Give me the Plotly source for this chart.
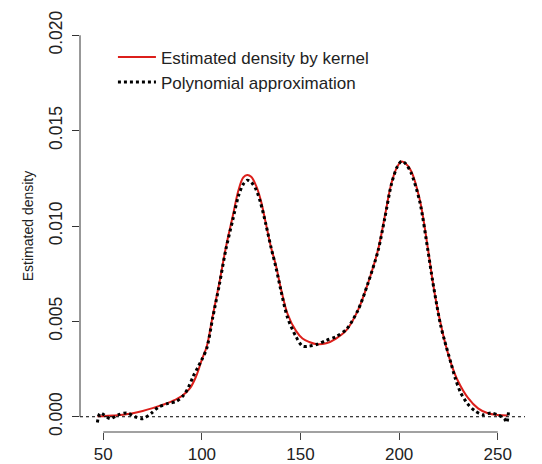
import plotly.graph_objects as go

# Kernel density estimate (red curve)
kde_x = [47, 50, 55, 60, 65, 70, 75, 80, 85, 90, 94, 97, 100, 102.5, 105.5, 108.8, 112.2,
         115.6, 118.6, 121, 123, 125, 127.5, 129.8, 132.4, 135, 137.6, 140.1, 143.4, 147.7,
         151, 154.4, 158.5, 163, 168, 173.4, 179.2, 184.2, 189.3, 192.7, 196.1, 199, 201.2,
         203, 206, 210.4, 214.6, 217, 219, 221, 223, 226.3, 229.7, 234.8, 240, 245, 250, 255]
kde_y = [0.00002, 0.00003, 0.00006, 0.0001, 0.00018, 0.0003, 0.00045, 0.00062, 0.00082,
         0.0011, 0.0015, 0.0021, 0.0030, 0.0037, 0.0053, 0.0070, 0.0089,
         0.0105, 0.0119, 0.01255, 0.01268, 0.01258, 0.0121, 0.01137, 0.01015, 0.0089,
         0.0079, 0.0067, 0.0054, 0.0045,
         0.0041, 0.00392, 0.0038, 0.00385, 0.0041, 0.00455, 0.0056, 0.0070, 0.00875,
         0.01049, 0.01225, 0.0131, 0.01338,
         0.0133, 0.0129, 0.0114, 0.0088, 0.0071, 0.0059, 0.0049, 0.0040, 0.0028, 0.0019,
         0.0010, 0.00044, 0.00018, 0.00009, 0.00006]

# Polynomial approximation (black dotted curve)
poly_x = [47, 48.5, 53.5, 57.5, 62, 66, 70, 74.5, 78, 83, 87, 90.5, 93, 95.5, 98, 100,
          102.5, 105.5, 108.8, 112.2, 115.6, 118.6, 121, 123, 125, 127.5, 129.8, 132.4, 135,
          137.6, 140.1, 143.4, 147.7, 151, 154.4, 158.5, 163, 168, 173.4, 179.2, 184.2,
          189.3, 192.7, 196.1, 199, 201.2, 203, 206, 210.4, 214.6, 217, 219, 221, 223,
          226.3, 228.5, 231, 234.5, 238.5, 242.5, 246.5, 250, 253.3, 254.5, 255.5]
poly_y = [-0.0003, 0.0002, -0.0001, 0.0001, 0.0002, 0.0, -0.0001, 0.0002, 0.0005, 0.0007,
          0.0008, 0.0011, 0.0015, 0.0021, 0.0026, 0.0030,
          0.0036, 0.0052, 0.0069, 0.0088, 0.0103, 0.0116, 0.0122, 0.0124, 0.0123, 0.0119,
          0.0112, 0.0101, 0.0089,
          0.0078, 0.0066, 0.0052, 0.0042, 0.0037, 0.0037, 0.0038, 0.0040, 0.0042, 0.0046,
          0.0056, 0.0070,
          0.0087, 0.0104, 0.0122, 0.0131, 0.0134, 0.0133, 0.0128, 0.0113, 0.0087, 0.0071,
          0.0059, 0.0048, 0.0040,
          0.0028, 0.0020, 0.0013, 0.0007, 0.0003, 0.0001, 0.0002, 0.0001, -0.0001, -0.0003,
          0.0003]

x_ticks = [50, 100, 150, 200, 250]
y_ticks = [0.0, 0.005, 0.010, 0.015, 0.020]
y_ticklabels = ["0.000", "0.005", "0.010", "0.015", "0.020"]

x_range = [38.2, 263.8]
y_range = [-0.0008, 0.0208]


def xfrac(v):
    return (v - x_range[0]) / (x_range[1] - x_range[0])


def yfrac(v):
    return (v - y_range[0]) / (y_range[1] - y_range[0])


fig = go.Figure()
fig.add_trace(go.Scatter(x=kde_x, y=kde_y, mode="lines", name="Estimated density by kernel",
                         line=dict(color="#DC1F1B", width=2, shape="spline")))
fig.add_trace(go.Scatter(x=poly_x, y=poly_y, mode="lines", name="Polynomial approximation",
                         line=dict(color="black", width=3, dash="dot", shape="spline",
                                   smoothing=0.8)))

# horizontal reference line at 0
fig.add_shape(type="line", xref="paper", yref="paper", x0=0, x1=1,
              y0=yfrac(0), y1=yfrac(0),
              line=dict(color="black", width=1, dash="dot"))
# R-style axis lines spanning only the tick range
fig.add_shape(type="line", xref="paper", yref="paper",
              x0=xfrac(x_ticks[0]), x1=xfrac(x_ticks[-1]), y0=0, y1=0,
              line=dict(color="#444444", width=1.2))
fig.add_shape(type="line", xref="paper", yref="paper", x0=0, x1=0,
              y0=yfrac(y_ticks[0]), y1=yfrac(y_ticks[-1]),
              line=dict(color="#333333", width=1))

font = "Liberation Sans, Arial, sans-serif"
fig.update_layout(
    width=534, height=456,
    margin=dict(l=72, r=17, t=12, b=32),
    paper_bgcolor="white", plot_bgcolor="white",
    font=dict(family=font, color="#222222", size=16),
    showlegend=True,
    legend=dict(x=0.074, y=0.953, xanchor="left", yanchor="top",
                bgcolor="rgba(0,0,0,0)", font=dict(size=17, family=font),
                tracegroupgap=0, itemwidth=38),
    xaxis=dict(range=x_range, tickvals=x_ticks, ticks="outside", ticklen=7,
               tickcolor="#444444", tickwidth=1.2, showgrid=False, zeroline=False,
               showline=False, tickfont=dict(size=17), ticklabelstandoff=0,
               automargin=False),
    yaxis=dict(range=y_range, tickvals=y_ticks, ticktext=y_ticklabels,
               ticks="outside", ticklen=7, tickcolor="#333333", showgrid=False,
               zeroline=False, showline=False, tickangle=-90, tickfont=dict(size=17.5),
               ticklabelstandoff=3, automargin=False,
               title=dict(text="Estimated density", font=dict(size=14), standoff=9)),
)

fig.write_html("out.html")
